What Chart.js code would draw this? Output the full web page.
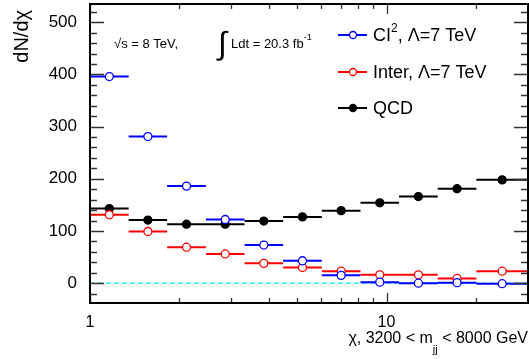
<!DOCTYPE html>
<html>
<head>
<meta charset="utf-8">
<script src="https://cdn.jsdelivr.net/npm/chart.js@4"></script>
<style>
  html, body { margin: 0; padding: 0; background: #fff; }
  #wrap { width: 529px; height: 359px; }
</style>
</head>
<body>
<div id="wrap"><canvas id="c" width="529" height="359"></canvas></div>
<script>
// chi bin edges
const binLo = [1.0, 1.35, 1.82, 2.46, 3.32, 4.48, 6.05, 8.17, 11.02, 14.88, 20.09];
const binHi = [1.35, 1.82, 2.46, 3.32, 4.48, 6.05, 8.17, 11.02, 14.88, 20.09, 30.0];

const ciValues    = [396, 281, 186, 122, 73, 43, 15, 2, 0, 1, -1];
const interValues = [131, 99, 69, 56, 38, 30, 23, 16, 16, 9, 23];
const qcdValues   = [143, 121, 113, 113, 119, 127, 139, 154, 166, 181, 198];

const ciErr    = [0, 0, 0, 0, 0, 0, 0, 2, 3, 3, 2];
const interErr = [0, 0, 0, 0, 0, 0, 0, 2, 4, 5, 2];
const qcdErr   = [0, 0, 0, 0, 0, 0, 0, 0, 0, 0, 0];

const yTicks = [0, 100, 200, 300, 400, 500];
const xTicks = [1, 10];

const FONT = '"Liberation Sans", Arial, sans-serif';

function pts(vals) {
  return vals.map((v, i) => ({ x: Math.sqrt(binLo[i] * binHi[i]), y: v }));
}

const series = [
  { label: 'CI', values: ciValues, err: ciErr, color: '#0000ff', open: true },
  { label: 'Inter', values: interValues, err: interErr, color: '#ff0000', open: true },
  { label: 'QCD', values: qcdValues, err: qcdErr, color: '#000000', open: false }
];

const binBars = {
  id: 'binBars',
  beforeDatasetsDraw(chart) {
    const { ctx, chartArea: a, scales: { x, y } } = chart;
    ctx.save();
    ctx.beginPath();
    ctx.rect(a.left, a.top, a.right - a.left, a.bottom - a.top);
    ctx.clip();
    // zero line
    ctx.strokeStyle = '#00e0e0';
    ctx.lineWidth = 1.4;
    ctx.setLineDash([5, 3]);
    ctx.beginPath();
    ctx.moveTo(a.left, y.getPixelForValue(0));
    ctx.lineTo(a.right, y.getPixelForValue(0));
    ctx.stroke();
    ctx.setLineDash([]);
    // horizontal bin widths, qcd first so blue ends on top
    for (let s = series.length - 1; s >= 0; s--) {
      const ser = series[s];
      ctx.strokeStyle = ser.color;
      ctx.lineWidth = 2;
      ser.values.forEach((v, i) => {
        const py = y.getPixelForValue(v);
        ctx.beginPath();
        ctx.moveTo(x.getPixelForValue(binLo[i]), py);
        ctx.lineTo(x.getPixelForValue(binHi[i]), py);
        ctx.stroke();
        if (ser.err[i] > 0) {
          const xc = x.getPixelForValue(Math.sqrt(binLo[i] * binHi[i]));
          ctx.beginPath();
          ctx.moveTo(xc, y.getPixelForValue(v - ser.err[i]));
          ctx.lineTo(xc, y.getPixelForValue(v + ser.err[i]));
          ctx.stroke();
        }
      });
    }
    ctx.restore();
  },
  afterDraw(chart) {
    const { ctx, chartArea: a, scales: { x, y } } = chart;
    ctx.save();
    // ticks
    ctx.strokeStyle = '#333';
    ctx.lineWidth = 1.3;
    ctx.beginPath();
    for (let v = -40; v <= 530; v += 20) {
      const py = Math.round(y.getPixelForValue(v)) + 0.5;
      if (py < a.top || py > a.bottom) continue;
      const len = v % 100 === 0 ? 14 : 7;
      ctx.moveTo(a.left, py); ctx.lineTo(a.left + len, py);
      ctx.moveTo(a.right, py); ctx.lineTo(a.right - len, py);
    }
    const xs = [1, 2, 3, 4, 5, 6, 7, 8, 9, 10, 20, 30];
    xs.forEach(v => {
      const px = Math.round(x.getPixelForValue(v)) + 0.5;
      const len = (v === 1 || v === 10) ? 10 : 5;
      ctx.moveTo(px, a.bottom); ctx.lineTo(px, a.bottom - len);
      ctx.moveTo(px, a.top); ctx.lineTo(px, a.top + len);
    });
    ctx.stroke();
    // frame
    ctx.strokeStyle = '#000';
    ctx.lineWidth = 2;
    ctx.strokeRect(a.left, a.top, a.right - a.left, a.bottom - a.top);

    ctx.fillStyle = '#000';
    // y title
    ctx.save();
    ctx.translate(22, 10);
    ctx.rotate(-Math.PI / 2);
    ctx.font = '20px ' + FONT;
    ctx.textAlign = 'right';
    ctx.textBaseline = 'middle';
    ctx.fillText('dN/d\u03c7', 0, 0);
    ctx.restore();

    // x title with subscript
    ctx.textBaseline = 'alphabetic';
    ctx.textAlign = 'left';
    const part1 = '\u03c7, 3200 < m', sub = 'jj', part2 = ' < 8000 GeV';
    ctx.font = '16px ' + FONT;
    const w1 = ctx.measureText(part1).width, w3 = ctx.measureText(part2).width;
    ctx.font = '11px ' + FONT;
    const w2 = ctx.measureText(sub).width;
    let tx = 528 - (w1 + w2 + w3);
    ctx.font = '16px ' + FONT;
    ctx.fillText(part1, tx, 343);
    ctx.font = '11px ' + FONT;
    ctx.fillText(sub, tx + w1, 353);
    ctx.font = '16px ' + FONT;
    ctx.fillText(part2, tx + w1 + w2, 343);

    // annotation
    ctx.font = '13px ' + FONT;
    ctx.fillText('\u221as = 8 TeV,', 114, 48);
    ctx.font = '32px ' + FONT;
    ctx.fillText('\u222b', 218, 54);
    ctx.font = '13px ' + FONT;
    ctx.fillText('Ldt = 20.3 fb', 231, 48);
    const wfb = ctx.measureText('Ldt = 20.3 fb').width;
    ctx.font = '9px ' + FONT;
    ctx.fillText('-1', 231 + wfb, 40);

    // legend
    const legY = [35, 72, 108];
    const labels = [['CI', '2', ', \u039b=7 TeV'], ['Inter, \u039b=7 TeV'], ['QCD']];
    series.forEach((ser, i) => {
      const ly = legY[i];
      ctx.strokeStyle = ser.color;
      ctx.lineWidth = 2;
      ctx.beginPath();
      ctx.moveTo(338, ly); ctx.lineTo(367, ly);
      ctx.stroke();
      ctx.beginPath();
      ctx.arc(353, ly, 3.5, 0, Math.PI * 2);
      ctx.fillStyle = ser.open ? '#fff' : ser.color;
      ctx.fill();
      ctx.lineWidth = 1.3;
      ctx.stroke();
      ctx.fillStyle = '#000';
      ctx.textBaseline = 'middle';
      let lx = 373;
      const parts = labels[i];
      ctx.font = '18px ' + FONT;
      ctx.fillText(parts[0], lx, ly + 1);
      if (parts.length > 1) {
        lx += ctx.measureText(parts[0]).width;
        ctx.font = '12px ' + FONT;
        ctx.fillText(parts[1], lx, ly - 6);
        lx += ctx.measureText(parts[1]).width;
        ctx.font = '18px ' + FONT;
        ctx.fillText(parts[2], lx, ly + 1);
      }
    });
    ctx.restore();
  }
};

new Chart(document.getElementById('c'), {
  type: 'line',
  data: {
    datasets: series.map(ser => ({
      label: ser.label,
      data: pts(ser.values),
      showLine: false,
      borderColor: ser.color,
      backgroundColor: ser.open ? '#ffffff' : ser.color,
      pointBackgroundColor: ser.open ? '#ffffff' : ser.color,
      pointBorderColor: ser.color,
      pointBorderWidth: 1.3,
      pointRadius: 4,
      clip: false
    }))
  },
  options: {
    responsive: false,
    animation: false,
    events: [],
    layout: { autoPadding: false, padding: { top: 4, right: 1, left: 0, bottom: 0 } },
    plugins: { legend: { display: false }, tooltip: { enabled: false } },
    scales: {
      x: {
        type: 'logarithmic',
        min: 1,
        max: 30,
        grid: { display: false },
        border: { display: false },
        afterBuildTicks(scale) { scale.ticks = xTicks.map(v => ({ value: v })); },
        afterFit(scale) { scale.height = 56; scale.paddingLeft = 0; scale.paddingRight = 0; },
        ticks: {
          autoSkip: false,
          maxRotation: 0,
          padding: 2,
          color: '#000',
          font: { family: FONT, size: 16 },
          callback: v => String(v)
        }
      },
      y: {
        type: 'linear',
        min: -38,
        max: 535,
        grid: { display: false },
        border: { display: false },
        afterBuildTicks(scale) { scale.ticks = yTicks.map(v => ({ value: v })); },
        afterFit(scale) { scale.width = 90; scale.paddingTop = 0; scale.paddingBottom = 0; },
        ticks: {
          padding: 5,
          color: '#000',
          font: { family: FONT, size: 17 },
          callback: v => String(v)
        }
      }
    }
  },
  plugins: [binBars]
});
</script>
</body>
</html>
